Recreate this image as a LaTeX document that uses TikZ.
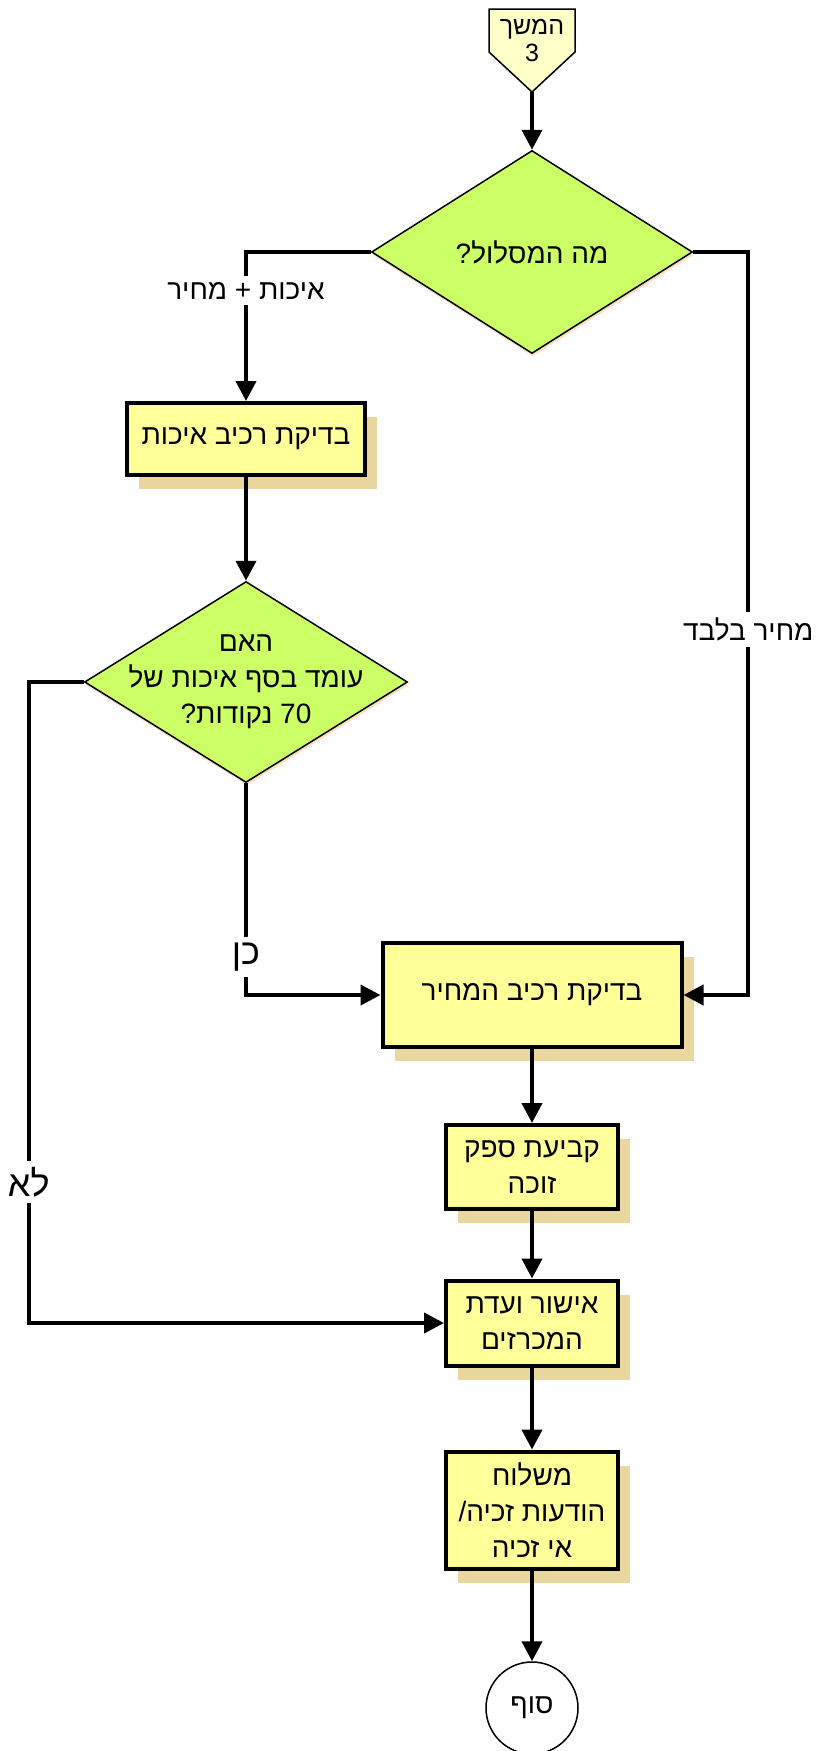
\documentclass[tikz,border=0pt]{standalone}
\usepackage{fontspec}
\usepackage{xcolor}
\usepackage{tikz}
\usetikzlibrary{
  arrows.meta,
  positioning,
  shapes.geometric,
  shadows
}
\newfontfamily\hebfont[Script=Hebrew]{Liberation Sans}
\TeXXeTstate=1
\newcommand{\hebtxt}[1]{{\hebfont\beginR #1\endR}}
\definecolor{boxfill}{HTML}{FFFF99}
\definecolor{decfill}{HTML}{CCFF66}
\definecolor{contfill}{HTML}{FFFFC8}
\definecolor{shdw}{HTML}{EAD7A0}

\begin{document}
\begin{tikzpicture}[
  x=0.5pt, y=-0.5pt,
  every node/.style={font=\hebfont\fontsize{14}{18}\selectfont, align=center},
  box/.style={draw, line width=2pt, fill=boxfill, inner sep=2pt,
              drop shadow={shadow xshift=6pt, shadow yshift=-7pt, fill=shdw, opacity=1}},
  decision/.style={diamond, draw, line width=0.75pt, fill=decfill, inner sep=0pt,
              drop shadow={shadow xshift=0.5pt, shadow yshift=-1.5pt, fill=orange!25, opacity=1}},
  arrow/.style={-{Triangle[length=10pt, width=10pt]}, line width=2pt},
  lbl/.style={fill=white, inner sep=3pt},
  yesno/.style={lbl, font=\hebfont\fontsize{18}{20}\selectfont},
]
  \useasboundingbox (0,0) rectangle (821,1751);

  % continuation from page 3
  \draw[line width=0.75pt, fill=contfill] (489,9) -- (575,9) -- (575,52) -- (532,92) -- (489,52) -- cycle;
  \node[font=\hebfont\fontsize{12.5}{13.5}\selectfont] (cont) at (532,41) {\hebtxt{המשך}\\3};
  \coordinate (contp) at (532,92);

  % route decision
  \node[decision, minimum width=160.5pt, minimum height=101.5pt] (route) at (532,252) {\hebtxt{מה המסלול{}?}};
  \node[box, minimum width=119pt, minimum height=36pt] (quality) at (246,439) {\hebtxt{בדיקת רכיב איכות}};
  \node[decision, minimum width=161.5pt, minimum height=100.5pt,
        label={center:{\hebfont\beginR האם\endR}\\
                      {\hebfont\beginR עומד בסף איכות של\endR}\\
                      {\hebfont\beginR 70 נקודות{}?\endR}}] (thresh) at (246,682) {};

  % price and closing steps
  \node[box, minimum width=149.5pt, minimum height=52pt] (price) at (532,995) {\hebtxt{בדיקת רכיב המחיר}};
  \node[box, minimum width=86pt, minimum height=42pt] (winner) at (532,1167) {\hebtxt{קביעת ספק}\\ \hebtxt{זוכה}};
  \node[box, minimum width=86pt, minimum height=42.5pt] (approve) at (532,1323) {\hebtxt{אישור ועדת}\\ \hebtxt{המכרזים}};
  \node[box, minimum width=86pt, minimum height=58.5pt] (notify) at (532,1510) {\hebtxt{משלוח}\\ \hebtxt{הודעות זכיה{}/}\\ \hebtxt{אי זכיה}};
  \node[draw, circle, line width=0.75pt, fill=white, minimum size=46pt] (fin) at (532,1708) {\hebtxt{סוף}};

  % connectors
  \draw[arrow] (contp) -- (route.north);
  \draw[arrow] (route.west) -| node[lbl, pos=0.63] {\hebtxt{איכות + מחיר}} (quality.north);
  \draw[arrow] (route.east) -- ++(55,0) |- node[lbl, pos=0.254] {\hebtxt{מחיר בלבד}} (price.east);
  \draw[arrow] (quality.south) -- (thresh.north);
  \draw[arrow] (thresh.south) |- node[yesno, pos=0.41] {\hebtxt{כן}} (price.west);
  \draw[arrow] (thresh.west) -- ++(-55,0) |- node[yesno, pos=0.39] {\hebtxt{לא}} (approve.west);
  \draw[arrow] (price.south) -- (winner.north);
  \draw[arrow] (winner.south) -- (approve.north);
  \draw[arrow] (approve.south) -- (notify.north);
  \draw[arrow] (notify.south) -- (fin.north);
\end{tikzpicture}
\end{document}
